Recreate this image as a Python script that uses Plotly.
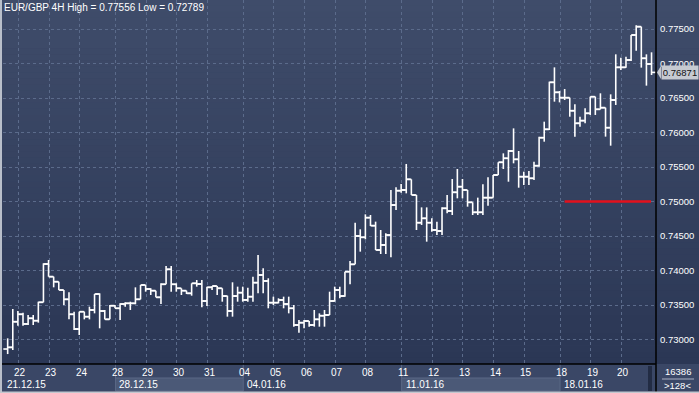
import plotly.graph_objects as go

# ---------------- data ----------------
DAY_LABELS = ["22", "23", "24", "28", "29", "30", "31", "04", "05", "06", "07",
              "08", "11", "12", "13", "14", "15", "18", "19", "20"]
DAY_POS = [3, 9, 15, 22, 28, 34, 40, 47, 53, 59, 65, 71, 78, 84, 90, 96, 102, 109, 115, 121]
WEEK_LABELS = ["21.12.15", "28.12.15", "04.01.16", "11.01.16", "18.01.16"]
WEEK_POS = [-3, 22, 47, 78, 109]
Y_TICKS = [0.730, 0.735, 0.740, 0.745, 0.750, 0.755, 0.760, 0.765, 0.770, 0.775]

OPEN = [0.72862, 0.72886, 0.73258, 0.73365, 0.73225, 0.73307, 0.73273, 0.73539, 0.74094, 0.73911,
        0.73838, 0.73717, 0.73582, 0.73365, 0.73152, 0.73403, 0.73331, 0.73428, 0.73659, 0.73413,
        0.73292, 0.73490, 0.73452, 0.73514, 0.73524, 0.73524, 0.73582, 0.73790, 0.73732, 0.73708,
        0.73611, 0.73800, 0.74017, 0.73800, 0.73742, 0.73708, 0.73669, 0.73814, 0.73804, 0.73558,
        0.73756, 0.73775, 0.73742, 0.73630, 0.73413, 0.73630, 0.73679, 0.73573, 0.73621, 0.73824,
        0.73935, 0.73848, 0.73534, 0.73534, 0.73573, 0.73514, 0.73452, 0.73210, 0.73244, 0.73268,
        0.73210, 0.73292, 0.73345, 0.73355, 0.73558, 0.73717, 0.73630, 0.73983, 0.74089, 0.74500,
        0.74481, 0.74766, 0.74650, 0.74297, 0.74370, 0.74514, 0.74949, 0.75157, 0.75167, 0.75321,
        0.75094, 0.74693, 0.74756, 0.74693, 0.74587, 0.74572, 0.74901, 0.74862, 0.75133, 0.75215,
        0.75167, 0.74988, 0.74843, 0.74843, 0.75056, 0.75056, 0.75384, 0.75568, 0.75626, 0.75732,
        0.75611, 0.75360, 0.75360, 0.75336, 0.75519, 0.75925, 0.76046, 0.76727, 0.76582, 0.76505,
        0.76505, 0.76316, 0.76133, 0.76172, 0.76278, 0.76519, 0.76336, 0.76360, 0.76070, 0.76471,
        0.76944, 0.76944, 0.77051, 0.77413, 0.77534, 0.77075, 0.76993]
HIGH = [0.73017, 0.73442, 0.73413, 0.73389, 0.73355, 0.73355, 0.73548, 0.74104, 0.74152, 0.73911,
        0.73838, 0.73717, 0.73684, 0.73403, 0.73403, 0.73403, 0.73476, 0.73659, 0.73669, 0.73428,
        0.73500, 0.73500, 0.73524, 0.73539, 0.73548, 0.73756, 0.73790, 0.73790, 0.73742, 0.73708,
        0.73814, 0.74065, 0.74065, 0.73814, 0.73742, 0.73708, 0.73814, 0.73862, 0.73862, 0.73766,
        0.73775, 0.73775, 0.73742, 0.73635, 0.73829, 0.73766, 0.73766, 0.73751, 0.73911, 0.74225,
        0.74031, 0.73887, 0.73621, 0.73597, 0.73621, 0.73621, 0.73500, 0.73283, 0.73283, 0.73268,
        0.73428, 0.73379, 0.73428, 0.73693, 0.73766, 0.73766, 0.73983, 0.74138, 0.74693, 0.74597,
        0.74814, 0.74804, 0.74708, 0.74587, 0.74539, 0.75167, 0.75205, 0.75254, 0.75544, 0.75321,
        0.75094, 0.74915, 0.74915, 0.74756, 0.74708, 0.74915, 0.75094, 0.75326, 0.75471, 0.75326,
        0.75167, 0.74988, 0.75056, 0.75249, 0.75350, 0.75384, 0.75568, 0.75698, 0.75746, 0.76060,
        0.75732, 0.75432, 0.75442, 0.75577, 0.75940, 0.76157, 0.76737, 0.76944, 0.76601, 0.76630,
        0.76505, 0.76408, 0.76229, 0.76350, 0.76519, 0.76519, 0.76568, 0.76360, 0.76553, 0.77133,
        0.77085, 0.77099, 0.77413, 0.77556, 0.77534, 0.77133, 0.77162]
LOW = [0.72789, 0.72848, 0.73200, 0.73200, 0.73210, 0.73210, 0.73244, 0.73539, 0.73911, 0.73756,
       0.73717, 0.73500, 0.73292, 0.73138, 0.73065, 0.73292, 0.73292, 0.73379, 0.73162, 0.73292,
       0.73292, 0.73452, 0.73283, 0.73476, 0.73428, 0.73510, 0.73582, 0.73693, 0.73645, 0.73611,
       0.73514, 0.73800, 0.73693, 0.73693, 0.73645, 0.73659, 0.73635, 0.73766, 0.73466, 0.73485,
       0.73717, 0.73645, 0.73548, 0.73331, 0.73331, 0.73548, 0.73548, 0.73548, 0.73548, 0.73669,
       0.73669, 0.73452, 0.73500, 0.73524, 0.73452, 0.73379, 0.73186, 0.73099, 0.73162, 0.73186,
       0.73186, 0.73186, 0.73186, 0.73355, 0.73548, 0.73597, 0.73621, 0.73800, 0.74089, 0.74273,
       0.74452, 0.74645, 0.74297, 0.74239, 0.74239, 0.74191, 0.74877, 0.75128, 0.75118, 0.75094,
       0.74587, 0.74660, 0.74418, 0.74563, 0.74514, 0.74514, 0.74829, 0.74804, 0.75046, 0.75046,
       0.74925, 0.74804, 0.74804, 0.74804, 0.74940, 0.75056, 0.75384, 0.75471, 0.75287, 0.75553,
       0.75200, 0.75239, 0.75239, 0.75312, 0.75505, 0.75867, 0.76036, 0.76447, 0.76437, 0.76471,
       0.76229, 0.75940, 0.76085, 0.76133, 0.76254, 0.76254, 0.76336, 0.75940, 0.75809, 0.76399,
       0.76906, 0.76940, 0.77036, 0.77186, 0.76940, 0.76679, 0.76833]
CLOSE = [0.72886, 0.73258, 0.73365, 0.73225, 0.73307, 0.73273, 0.73539, 0.74094, 0.73911, 0.73838,
         0.73717, 0.73582, 0.73365, 0.73152, 0.73403, 0.73331, 0.73428, 0.73659, 0.73413, 0.73292,
         0.73490, 0.73452, 0.73514, 0.73524, 0.73524, 0.73582, 0.73790, 0.73732, 0.73708, 0.73611,
         0.73800, 0.74017, 0.73800, 0.73742, 0.73708, 0.73669, 0.73814, 0.73804, 0.73558, 0.73756,
         0.73775, 0.73742, 0.73630, 0.73413, 0.73630, 0.73679, 0.73573, 0.73621, 0.73824, 0.73935,
         0.73848, 0.73534, 0.73534, 0.73573, 0.73514, 0.73452, 0.73210, 0.73244, 0.73268, 0.73210,
         0.73292, 0.73345, 0.73355, 0.73558, 0.73717, 0.73630, 0.73983, 0.74089, 0.74500, 0.74481,
         0.74766, 0.74650, 0.74297, 0.74370, 0.74514, 0.74949, 0.75157, 0.75167, 0.75321, 0.75094,
         0.74693, 0.74756, 0.74693, 0.74587, 0.74572, 0.74901, 0.74862, 0.75133, 0.75215, 0.75167,
         0.74988, 0.74843, 0.74843, 0.75056, 0.75056, 0.75384, 0.75568, 0.75626, 0.75732, 0.75611,
         0.75360, 0.75360, 0.75336, 0.75519, 0.75925, 0.76046, 0.76727, 0.76582, 0.76505, 0.76505,
         0.76316, 0.76133, 0.76172, 0.76278, 0.76519, 0.76336, 0.76360, 0.76070, 0.76471, 0.76944,
         0.76944, 0.77051, 0.77413, 0.77534, 0.77075, 0.76993, 0.76871]

TITLE = "EUR/GBP 4H High = 0.77556 Low = 0.72789"
LAST_PRICE = CLOSE[-1]
ALERT_LEVEL = 0.75
ALERT_FROM, ALERT_TO = 109, 125.9
CORNER_TOP, CORNER_BOTTOM = "16386", ">128<"

# ---------------- geometry / style ----------------
W, H = 699, 393
ML, MR, MT, MB = 3, 43, 0, 29
PW, PH = W - ML - MR, H - MT - MB
FONT = "Liberation Sans, Arial, sans-serif"
FS = 10
FS_AX = 9.5


def px(xp):
    return (xp - ML) / PW


def py(yp):
    return (MT + PH - yp) / PH


# OHLC bars as segments
T = 0.85
xs, ys = [], []
n = len(CLOSE)
for i in range(n):
    xs += [i, i, None, i - T, i, None, i, i + T, None]
    ys += [LOW[i], HIGH[i], None, OPEN[i], OPEN[i], None, CLOSE[i], CLOSE[i], None]

fig = go.Figure()
fig.add_trace(go.Scatter(x=xs, y=ys, mode="lines", line=dict(color="#ffffff", width=1.6),
                         hoverinfo="skip", showlegend=False))

shapes = []
# background gradient
top_c, bot_c = (0x3f, 0x4c, 0x6a), (0x2b, 0x37, 0x55)
NS = 60
for k in range(NS):
    t = k / (NS - 1)
    c = tuple(round(top_c[j] + (bot_c[j] - top_c[j]) * t) for j in range(3))
    y0 = py(PH * k / NS)
    y1 = py(PH * (k + 1) / NS)
    shapes.append(dict(type="rect", xref="paper", yref="paper", x0=px(0), x1=px(W),
                       y0=y1, y1=y0 + 0.001, fillcolor="rgb(%d,%d,%d)" % c,
                       line=dict(width=0), layer="below"))
# bottom axis area
shapes.append(dict(type="rect", xref="paper", yref="paper", x0=px(0), x1=px(W),
                   y0=py(H), y1=py(364), fillcolor="#3a4766", line=dict(width=0), layer="below"))
# highlighted weeks
for a, b in [(WEEK_POS[1], WEEK_POS[2]), (WEEK_POS[3], WEEK_POS[4])]:
    shapes.append(dict(type="rect", xref="x", yref="paper", x0=a - 0.9, x1=b - 0.9,
                       y0=py(391), y1=py(378), fillcolor="#4b5977",
                       line=dict(color="#5a6886", width=1), layer="below"))
# week separators
for wp in WEEK_POS[1:]:
    shapes.append(dict(type="line", xref="x", yref="paper", x0=wp - 0.9, x1=wp - 0.9,
                       y0=py(378), y1=py(364), line=dict(color="#5d6b89", width=1)))
# scrollbar stub
shapes.append(dict(type="rect", xref="paper", yref="paper", x0=px(648), x1=px(652),
                   y0=py(391), y1=py(366), fillcolor="#222c44", line=dict(width=0)))
# black frame lines
shapes.append(dict(type="line", xref="paper", yref="paper", x0=px(0), x1=px(656),
                   y0=py(364), y1=py(364), line=dict(color="#000000", width=1.5)))
shapes.append(dict(type="line", xref="paper", yref="paper", x0=px(656), x1=px(656),
                   y0=py(H), y1=py(0), line=dict(color="#000000", width=1.5)))
# corner divider
shapes.append(dict(type="line", xref="paper", yref="paper", x0=px(662), x1=px(694),
                   y0=py(379), y1=py(379), line=dict(color="#aab2c4", width=1)))
# outer border left / bottom
shapes.append(dict(type="rect", xref="paper", yref="paper", x0=px(0), x1=px(2),
                   y0=py(H), y1=py(0), fillcolor="#b9bfca", line=dict(width=0)))
shapes.append(dict(type="rect", xref="paper", yref="paper", x0=px(0), x1=px(W),
                   y0=py(H), y1=py(391.5), fillcolor="#c3c7cf", line=dict(width=0)))
# alert line
shapes.append(dict(type="line", xref="x", yref="y", x0=ALERT_FROM, x1=ALERT_TO,
                   y0=ALERT_LEVEL, y1=ALERT_LEVEL, line=dict(color="#e3101c", width=2.5)))
# price tag arrow
shapes.append(dict(type="path", xref="paper", yref="y",
                   path="M %f %f L %f %f L %f %f Z" % (px(657), LAST_PRICE,
                                                      px(661), LAST_PRICE + 0.00095,
                                                      px(661), LAST_PRICE - 0.00095),
                   fillcolor="#c6cad1", line=dict(width=0)))

ann = []
ann.append(dict(text=TITLE, xref="paper", yref="paper", x=px(2), y=py(7.5), xanchor="left",
                yanchor="middle", showarrow=False, font=dict(color="#ffffff", size=FS, family=FONT)))
for lab, pos in zip(DAY_LABELS, DAY_POS):
    ann.append(dict(text=lab, xref="x", yref="paper", x=pos - 0.5, y=py(372), xanchor="center",
                    yanchor="middle", showarrow=False,
                    font=dict(color="#ffffff", size=FS, family=FONT)))
for lab, pos in zip(WEEK_LABELS, WEEK_POS):
    xv = max(pos, 0.0) - 0.9
    ann.append(dict(text=lab, xref="x", yref="paper", x=xv, y=py(384), xanchor="left",
                    yanchor="middle", showarrow=False, xshift=2,
                    font=dict(color="#ffffff", size=FS, family=FONT)))
ann.append(dict(text=CORNER_TOP, xref="paper", yref="paper", x=px(677.5), y=py(371.5),
                xanchor="center", yanchor="middle", showarrow=False,
                font=dict(color="#ffffff", size=FS_AX, family=FONT)))
ann.append(dict(text=CORNER_BOTTOM, xref="paper", yref="paper", x=px(677.5), y=py(385.5),
                xanchor="center", yanchor="middle", showarrow=False,
                font=dict(color="#ffffff", size=FS_AX, family=FONT)))
ann.append(dict(text="%.5f" % LAST_PRICE, xref="paper", yref="y", x=px(661), y=LAST_PRICE,
                xanchor="left", yanchor="middle", showarrow=False, bgcolor="#c6cad1",
                borderpad=1, width=34,
                font=dict(color="#111111", size=FS_AX, family=FONT)))

YMAX = 0.775 + 29 / 6900
YMIN = 0.775 - (364 - 29) / 6900
X0 = (ML - 7.67) / 5.11
X1 = (ML + PW - 7.67) / 5.11

fig.update_layout(
    width=W, height=H, margin=dict(l=ML, r=MR, t=MT, b=MB, pad=0),
    paper_bgcolor="#34415f", plot_bgcolor="rgba(0,0,0,0)",
    shapes=shapes, annotations=ann, showlegend=False, hovermode=False,
    xaxis=dict(range=[X0, X1], tickvals=[p - 0.9 for p in DAY_POS], showticklabels=False,
               showgrid=True, gridcolor="#5b6b8b", griddash="3px,3px", gridwidth=1,
               zeroline=False, showline=False, ticks="", fixedrange=True),
    yaxis=dict(range=[YMIN, YMAX], side="right", tickvals=Y_TICKS,
               ticktext=["%.5f" % v for v in Y_TICKS], showgrid=True, gridcolor="#5b6b8b",
               griddash="3px,3px", gridwidth=1, zeroline=False, showline=False, ticks="",
               ticklabelstandoff=3,
               tickfont=dict(color="#ffffff", size=FS_AX, family=FONT), fixedrange=True),
)

fig.write_html("out.html")
